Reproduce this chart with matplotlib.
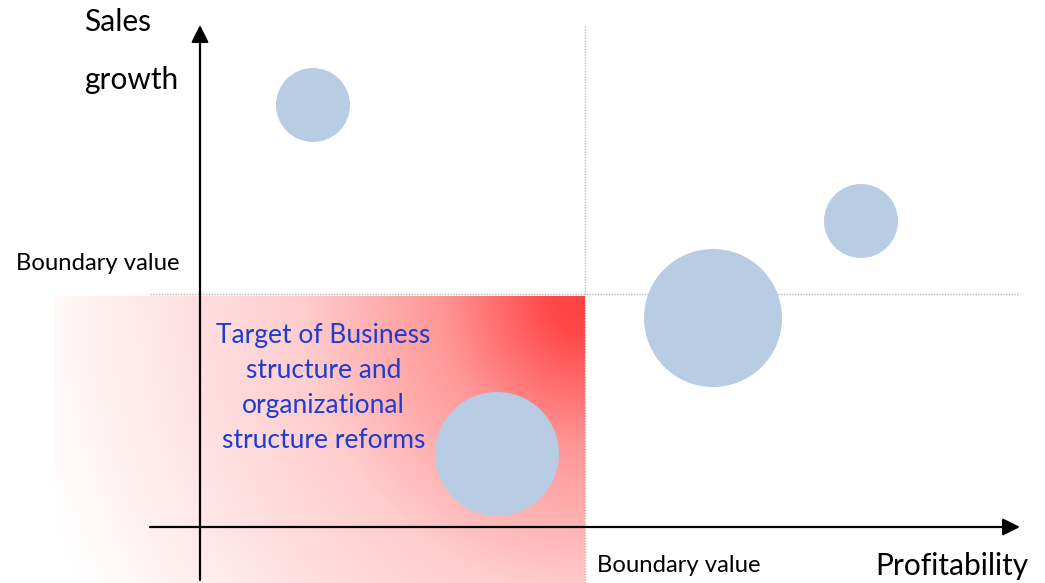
import numpy as np
import matplotlib
matplotlib.use("Agg")
import matplotlib.pyplot as plt
from matplotlib.patches import Circle

plt.rcParams['font.family'] = ['Lato', 'DejaVu Sans']

# Bubble data (profitability, sales growth, bubble radius)
profitability = [1.13, 6.61, 5.13, 2.97]
sales_growth = [4.22, 3.06, 2.09, 0.73]
bubble_radius = [0.37, 0.37, 0.69, 0.62]

boundary_profit = 3.85
boundary_growth = 2.33

x_label = "Profitability"
y_label_lines = ["Sales", "growth"]
boundary_label = "Boundary value"
target_text = "Target of Business\nstructure and\norganizational\nstructure reforms"

fig = plt.figure(figsize=(10.45, 5.83), dpi=100)
ax = fig.add_axes([0, 0, 1, 1])
ax.set_xlim(-2.0, 8.45)
ax.set_ylim(-0.56, 5.27)
ax.axis('off')

# gradient region (radial from the top-right corner of the target zone)
x0, x1 = -1.45, boundary_profit
y0, y1 = -0.56, boundary_growth - 0.02
nx, ny = 500, 280
xs = np.linspace(x0, x1, nx)
ys = np.linspace(y0, y1, ny)
X, Y = np.meshgrid(xs, ys)
r = np.sqrt((1.05 * (x1 - X)) ** 2 + (y1 - Y) ** 2)
t = np.interp(r, [0.0, 0.4, 1.5, 3.0, 6.0], [1.0, 0.95, 0.55, 0.26, 0.0])
red = np.array([1.0, 0.25, 0.25])
img = np.ones((ny, nx, 4))
for c in range(3):
    img[..., c] = 1 - (1 - red[c]) * t
ax.imshow(img, extent=(x0, x1, y0, y1), origin='lower', aspect='auto', zorder=0,
          interpolation='bilinear')

# dotted boundary lines
ax.plot([-0.5, 8.2], [boundary_growth, boundary_growth], ls=(0, (1, 1)), color='#b8b8b8', lw=1, zorder=1)
ax.plot([boundary_profit, boundary_profit], [-0.56, 5.02], ls=(0, (1, 1)), color='#b8b8b8', lw=1, zorder=1)

# axes arrows
ax.annotate('', xy=(8.2, 0), xytext=(-0.5, 0),
            arrowprops=dict(arrowstyle='-|>', lw=1.6, color='black', mutation_scale=26, shrinkA=0, shrinkB=0), zorder=3)
ax.annotate('', xy=(0, 5.02), xytext=(0, -0.53),
            arrowprops=dict(arrowstyle='-|>', lw=1.6, color='black', mutation_scale=26, shrinkA=0, shrinkB=0), zorder=3)

# bubbles
for px, gy, rad in zip(profitability, sales_growth, bubble_radius):
    ax.add_patch(Circle((px, gy), rad, facecolor='#B8CCE4', edgecolor='none', zorder=4))

# texts
ax.text(1.235, 1.395, target_text, color='#1e3cd2', fontsize=19, ha='center', va='center',
        linespacing=1.5, zorder=5)
ax.text(-1.16, 5.05, y_label_lines[0], fontsize=21.5, ha='left', va='center', color='black')
ax.text(-1.16, 4.47, y_label_lines[1], fontsize=21.5, ha='left', va='center', color='black')
ax.text(8.28, -0.39, x_label, fontsize=21.5, ha='right', va='center', color='black')
ax.text(-1.84, 2.64, boundary_label, fontsize=17.2, ha='left', va='center', color='black')
ax.text(3.97, -0.39, boundary_label, fontsize=17.2, ha='left', va='center', color='black')

fig.savefig('out.png', dpi=100)
